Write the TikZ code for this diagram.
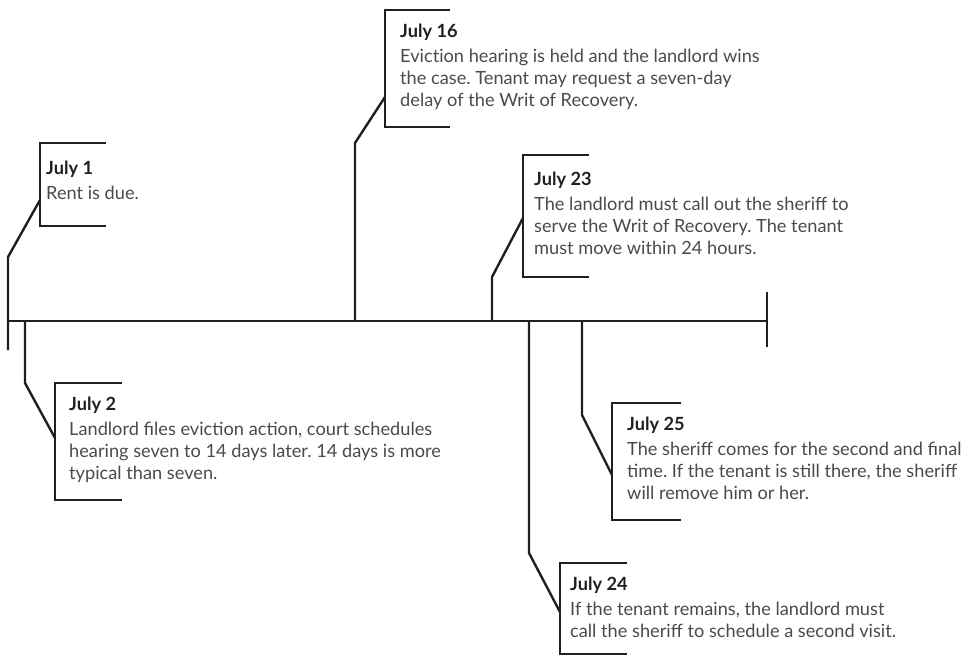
\documentclass[tikz,border=0pt]{standalone}
\usepackage{fontspec}
\setmainfont{Lato}
\frenchspacing
\usetikzlibrary{calc}
\definecolor{cInk}{HTML}{231F20}
\definecolor{cTxt}{HTML}{4A4A4A}
\tikzset{
  axisline/.style={draw=cInk,line width=2.4pt},
  lead/.style    ={draw=cInk,line width=2.4pt,line join=miter},
  brk/.style     ={draw=cInk,line width=2.6pt},
  evt/.style     ={anchor=base west,align=left,inner sep=0pt,text=cTxt,
                   font=\fontsize{18.2}{22}\selectfont},
}
\newcommand{\evdate}[1]{{\bfseries\color{cInk}#1}\\[3pt]}

\begin{document}
\begin{tikzpicture}[x=1pt,y=-1pt]
\useasboundingbox (0,0) rectangle (970,656);

% --- the time line ---------------------------------------------------------
\coordinate (ax-w) at (8,321);
\coordinate (ax-e) at (767,321);
\draw[axisline] (ax-w) -- (ax-e);
\draw[axisline] ([yshift=-26pt]ax-e) -- ([yshift=29pt]ax-e);

% --- July 1 (node anchored on its last line) ---------------------------------
\node[evt] (j1) at (46,199) {\evdate{July 1}Rent is due.};
\coordinate (j1t) at (40,143);
\coordinate (j1b) at (40,226);
\draw[brk] ([xshift=66pt]j1t) -- (j1t) -- (j1b) -- ++(66,0);
\coordinate (j1a) at (8,350);
\coordinate (j1e) at (8,257);
\coordinate (j1c) at (40,200);
\draw[lead] (j1a) -- (j1e) -- (j1c);

% --- July 2 ----------------------------------------------------------------
\node[evt] (j2) at (69,479) {\evdate{July 2}Landlord files eviction action, court schedules\\
  hearing seven to 14 days later. 14 days is more\\ typical than seven.};
\coordinate (j2t) at (55,383);
\coordinate (j2b) at (55,500);
\draw[brk] ([xshift=67pt]j2t) -- (j2t) -- (j2b) -- ++(67,0);
\coordinate (j2a) at (25,321);
\coordinate (j2e) at (25,383);
\coordinate (j2c) at (55,438);
\draw[lead] (j2a) -- (j2e) -- (j2c);

% --- July 16 ---------------------------------------------------------------
\node[evt] (j16) at (400,106) {\evdate{July 16}Evict\kern0pt ion hearing is held and the landlord wins\\
  the case. Tenant may request a seven-day\\ delay of the Writ of Recovery.};
\coordinate (j16t) at (385,10);
\coordinate (j16b) at (385,127);
\draw[brk] ([xshift=65pt]j16t) -- (j16t) -- (j16b) -- ++(65,0);
\coordinate (j16a) at (355,321);
\coordinate (j16e) at (355,143);
\coordinate (j16c) at (385,97);
\draw[lead] (j16a) -- (j16e) -- (j16c);

% --- July 23 ---------------------------------------------------------------
\node[evt] (j23) at (534,254) {\evdate{July 23}The landlord must call out the sheriff to\\
  serve the Writ of Recovery. The tenant\\ must move within 24 hours.};
\coordinate (j23t) at (523,155);
\coordinate (j23b) at (523,277);
\draw[brk] ([xshift=66pt]j23t) -- (j23t) -- (j23b) -- ++(66,0);
\coordinate (j23a) at (492,321);
\coordinate (j23e) at (492,277);
\coordinate (j23c) at (523,218);
\draw[lead] (j23a) -- (j23e) -- (j23c);

% --- July 24 ---------------------------------------------------------------
\node[evt] (j24) at (570,637) {\evdate{July 24}If the tenant remains, the landlord must\\
  call the sheriff to schedule a second visit.};
\coordinate (j24t) at (560,563);
\coordinate (j24b) at (560,654);
\draw[brk] ([xshift=67pt]j24t) -- (j24t) -- (j24b) -- ++(67,0);
\coordinate (j24a) at (529,321);
\coordinate (j24e) at (529,553);
\coordinate (j24c) at (560,612);
\draw[lead] (j24a) -- (j24e) -- (j24c);

% --- July 25 ---------------------------------------------------------------
\node[evt] (j25) at (627,499) {\evdate{July 25}The sheriff comes for the second and final\\
  time. If the tenant is still there, the sheriff\\ will remove him or her.};
\coordinate (j25t) at (612,403);
\coordinate (j25b) at (612,520);
\draw[brk] ([xshift=69pt]j25t) -- (j25t) -- (j25b) -- ++(69,0);
\coordinate (j25a) at (582,321);
\coordinate (j25e) at (582,415);
\coordinate (j25c) at (612,475);
\draw[lead] (j25a) -- (j25e) -- (j25c);

\end{tikzpicture}
\end{document}
